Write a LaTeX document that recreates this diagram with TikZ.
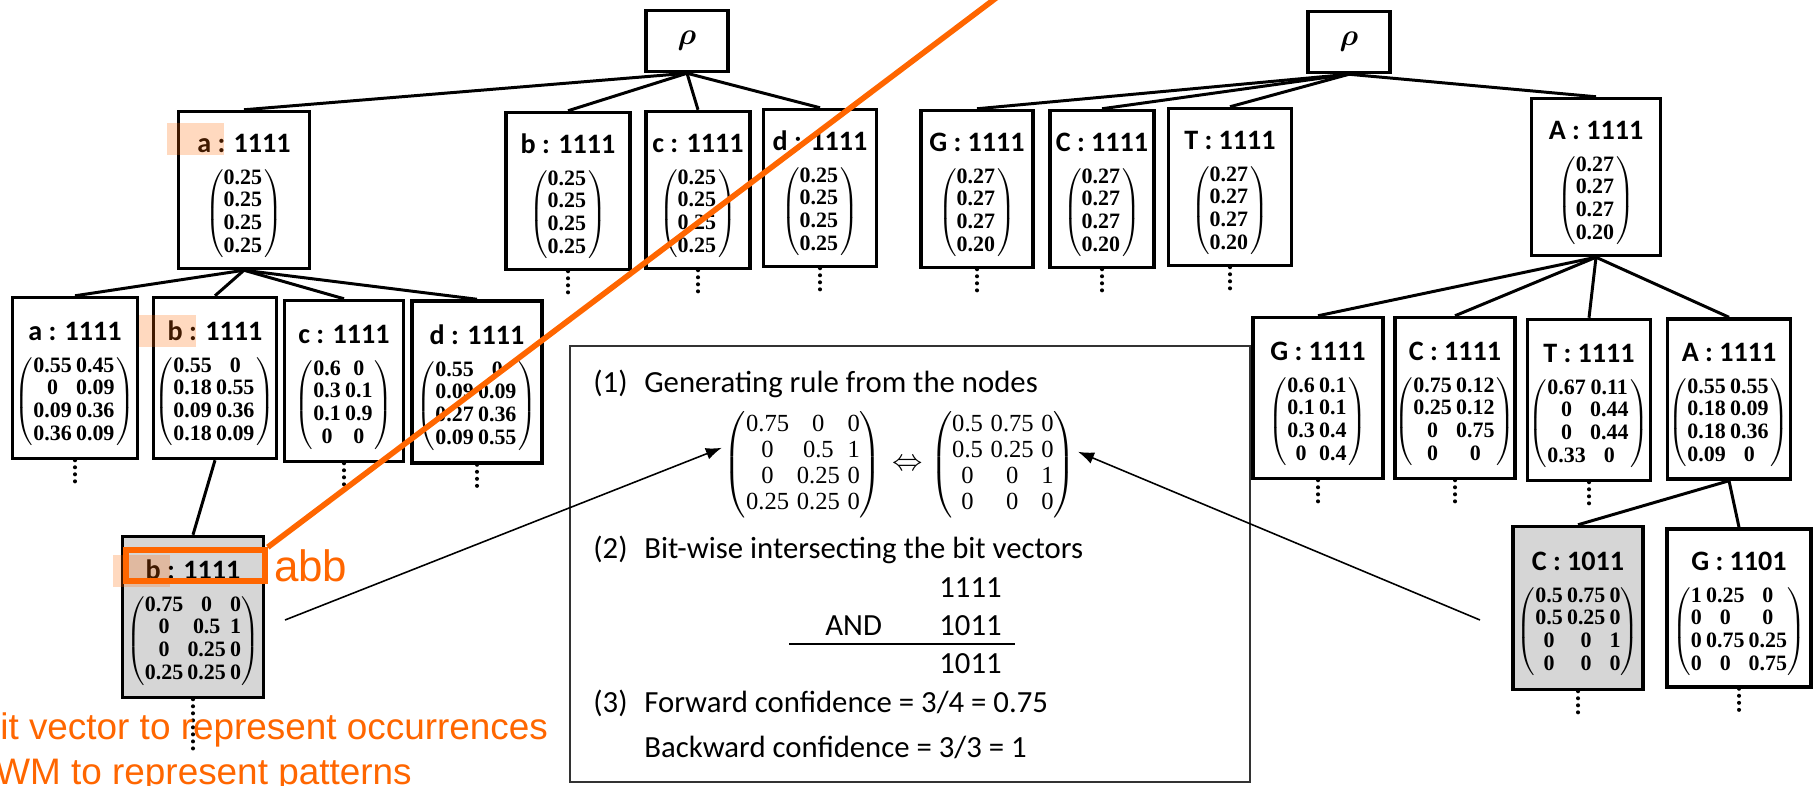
\documentclass[tikz,border=0pt]{standalone}
\usepackage{amsmath}
\usepackage[no-math]{fontspec}
\setmainfont{Carlito}
\newfontfamily\annofont{Liberation Sans}
\newfontfamily\matfont{Liberation Serif}
\usetikzlibrary{positioning,arrows.meta}
\definecolor{orng}{RGB}{255,102,0}

% title line and probability matrix of a tree node
\newcommand\pwmnode[2]{\rule{0pt}{18pt}{\fontsize{16}{18}\selectfont\bfseries #1}\\[8pt]%
  {\fontsize{12.5}{13}\selectfont\matfont\bfseries\setlength\tabcolsep{1.2pt}%
   $\left(\begin{tabular}{@{}ccc@{}}#2\end{tabular}\right)$}}
% matrix of the generated rule
\newcommand\rulematrix[1]{{\fontsize{14}{14.8}\selectfont\matfont\setlength\tabcolsep{2.2pt}%
   $\left(\begin{tabular}{@{}ccc@{}}#1\end{tabular}\right)$}}

\tikzset{pwm/.style = {draw, line width=2pt, align=center, inner sep=0pt,
                       minimum width=#1, minimum height=3.14cm},
         pwm/.default = 2.4cm,
         rootbox/.style = {draw, line width=2pt, minimum width=1.64cm, minimum height=1.22cm,
                           font=\fontsize{18}{20}\selectfont\boldmath},
         chosen/.style = {fill=black!16},
         edge/.style = {line width=1.7pt},
         moredots/.style = {line width=2.3pt, line cap=round, dash pattern=on 0pt off 4pt},
         panel/.style = {draw=black!80, line width=1.1pt, minimum width=13.6cm, minimum height=8.72cm},
         txt/.style = {anchor=base west, inner sep=0pt, font=\fontsize{17.5}{20}\selectfont},
         rulemat/.style = {inner sep=1pt},
         arr/.style = {line width=0.9pt, -{Latex[length=0.32cm,width=0.24cm]}},
         hilite/.style = {fill=orng, fill opacity=0.25},
         orngline/.style = {draw=orng, line width=3.2pt},
         note/.style = {anchor=base west, inner sep=0pt, text=orng, font=\annofont\fontsize{21}{25}\selectfont}
        }

\begin{document}
\begin{tikzpicture}[x=0.02cm, y=-0.02cm]
\useasboundingbox (0,0) rectangle (1814,785);

% left tree
\node[rootbox] at (687,41) (r) {$\rho$};
\node[pwm=2.62cm] at (244,190) (fa) {\pwmnode{a : 1111}{0.25\\0.25\\0.25\\0.25}};
\node[pwm=2.48cm] at (568,191) (fb) {\pwmnode{b : 1111}{0.25\\0.25\\0.25\\0.25}};
\node[pwm=2.08cm] at (698,190) (fc) {\pwmnode{c : 1111}{0.25\\0.25\\0.25\\0.25}};
\node[pwm=2.26cm] at (820,188) (fd) {\pwmnode{d : 1111}{0.25\\0.25\\0.25\\0.25}};
\node[pwm=2.50cm, minimum height=3.22cm] at (75,378) (faa) {\pwmnode{a : 1111}{0.55&0.45\\0&0.09\\0.09&0.36\\0.36&0.09}};
\node[pwm=2.46cm, minimum height=3.22cm] at (215,378) (fab) {\pwmnode{b : 1111}{0.55&0\\0.18&0.55\\0.09&0.36\\0.18&0.09}};
\node[pwm=2.38cm, minimum height=3.22cm] at (344,381) (fac) {\pwmnode{c : 1111}{0.6&0\\0.3&0.1\\0.1&0.9\\0&0}};
\node[pwm=2.60cm, minimum height=3.24cm] at (477,382) (fad) {\pwmnode{d : 1111}{0.55&0\\0.09&0.09\\0.27&0.36\\0.09&0.55}};
\node[pwm=2.82cm, minimum height=3.22cm, chosen] at (193,617) (fabb) {\pwmnode{b : 1111}{0.75&0&0\\0&0.5&1\\0&0.25&0\\0.25&0.25&0}};
\foreach \c in {fa,fb,fc,fd} \draw[edge] (r.south) -- (\c.north);
\foreach \c in {faa,fab,fac,fad} \draw[edge] (fa.south) -- (\c.north);
\draw[edge] (fab.south) -- (fabb.north);

% right tree
\node[rootbox] at (1349,42) (s) {$\rho$};
\node[pwm=2.24cm] at (977,189) (sg) {\pwmnode{G : 1111}{0.27\\0.27\\0.27\\0.20}};
\node[pwm=2.08cm] at (1102,189) (sc) {\pwmnode{C : 1111}{0.27\\0.27\\0.27\\0.20}};
\node[pwm=2.46cm] at (1230,187) (st) {\pwmnode{T : 1111}{0.27\\0.27\\0.27\\0.20}};
\node[pwm=2.58cm] at (1596,177) (sa) {\pwmnode{A : 1111}{0.27\\0.27\\0.27\\0.20}};
\node[pwm=2.60cm, minimum height=3.22cm] at (1318,398) (sag) {\pwmnode{G : 1111}{0.6&0.1\\0.1&0.1\\0.3&0.4\\0&0.4}};
\node[pwm=2.36cm, minimum height=3.22cm] at (1455,398) (sac) {\pwmnode{C : 1111}{0.75&0.12\\0.25&0.12\\0&0.75\\0&0}};
\node[pwm=2.46cm, minimum height=3.22cm] at (1589,400) (sat) {\pwmnode{T : 1111}{0.67&0.11\\0&0.44\\0&0.44\\0.33&0}};
\node[pwm=2.46cm, minimum height=3.20cm] at (1729,399) (saa) {\pwmnode{A : 1111}{0.55&0.55\\0.18&0.09\\0.18&0.36\\0.09&0}};
\node[pwm=2.60cm, minimum height=3.26cm, chosen] at (1578,608) (saac) {\pwmnode{C : 1011}{0.5&0.75&0\\0.5&0.25&0\\0&0&1\\0&0&0}};
\node[pwm=2.88cm, minimum height=3.16cm] at (1739,608) (saag) {\pwmnode{G : 1101}{1&0.25&0\\0&0&0\\0&0.75&0.25\\0&0&0.75}};
\foreach \c in {sg,sc,st,sa} \draw[edge] (s.south) -- (\c.north);
\foreach \c in {sag,sac,sat,saa} \draw[edge] (sa.south) -- (\c.north);
\foreach \c in {saac,saag} \draw[edge] (saa.south) -- (\c.north);

% subtrees going on
\foreach \n in {fb,fc,fd,faa,fac,fad,sg,sc,st,sag,sac,sat,saac,saag}
  \draw[moredots] (\n.south) -- ++(0,22);
\draw[moredots] (fabb.south) -- ++(0,50);

% rule panel
\node[panel] at (910,564) (box) {};
\node[txt] at (593,392) (gen) {\makebox[1.02cm][l]{(1)}Generating rule from the nodes};
\node[rulemat] at (803,465) (ruleL) {\rulematrix{0.75&0&0\\0&0.5&1\\0&0.25&0\\0.25&0.25&0}};
\node[font=\fontsize{18}{20}\selectfont] at (908,465) (iff) {$\Leftrightarrow$};
\node[rulemat] at (1003,465) (ruleR) {\rulematrix{0.5&0.75&0\\0.5&0.25&0\\0&0&1\\0&0&0}};
\node[txt] at (593,558) (bitw) {\makebox[1.02cm][l]{(2)}Bit-wise intersecting the bit vectors};
\node[txt] at (939,597) (v1) {1111};
\node[txt] at (825,635) (andop) {AND};
\node[txt] at (939,635) (v2) {1011};
\draw[line width=0.9pt] (789,644) -- (1015,644);
\node[txt] at (939,673) (v3) {1011};
\node[txt] at (593,712) (fwd) {\makebox[1.02cm][l]{(3)}Forward confidence = 3/4 = 0.75};
\node[txt] at (644,757) (bwd) {Backward confidence = 3/3 = 1};
\coordinate (fromL) at (285,620);
\coordinate (fromR) at (1480,620);
\draw[arr] (fromL) -- (ruleL.168);
\draw[arr] (fromR) -- (ruleR.10);

% orange notes
\foreach \x/\y in {167/123, 139/315, 113/555} \fill[hilite] (\x,\y) rectangle ++(57,32);
\node[orngline, minimum width=2.78cm, minimum height=0.62cm, inner sep=0pt] at (195.5,565.5) (abbbox) {};
\coordinate (edgetop) at (1000,-5);
\draw[orngline] (abbbox.north east) -- (edgetop);
\node[right=0.12cm of abbbox, inner sep=0pt, text=orng, font=\annofont\fontsize{25}{28}\selectfont] (abb) {abb};
\node[note] at (0,739) (bitnote) {it vector to represent occurrences};
\node[note] at (-5,784) (pwmnote) {WM to represent patterns};
\end{tikzpicture}
\end{document}
